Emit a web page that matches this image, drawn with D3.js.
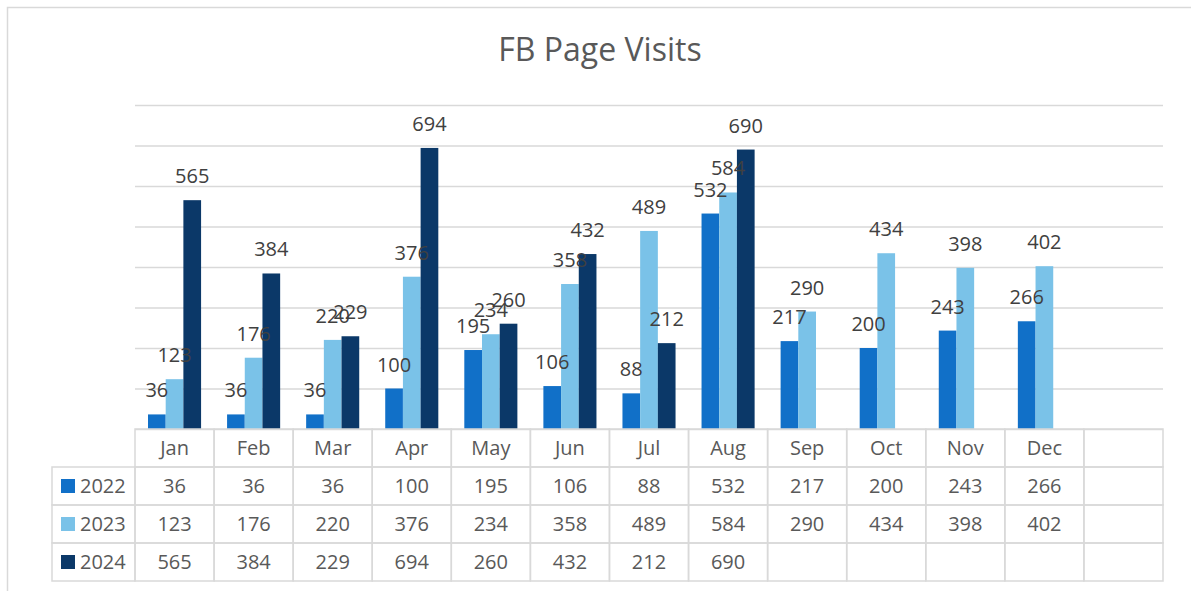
<!DOCTYPE html>
<html>
<head>
<meta charset="utf-8">
<script src="https://cdn.jsdelivr.net/npm/d3@7"></script>
<style>
  body { margin: 0; background: #fff; }
  text { font-family: "Open Sans", "Noto Sans", sans-serif; fill: #595959; }
</style>
</head>
<body>
<div id="chart"></div>
<script>
// data
var months = ["Jan","Feb","Mar","Apr","May","Jun","Jul","Aug","Sep","Oct","Nov","Dec",""];
var years = ["2022","2023","2024"];
var v2022 = [36,36,36,100,195,106,88,532,217,200,243,266];
var v2023 = [123,176,220,376,234,358,489,584,290,434,398,402];
var v2024 = [565,384,229,694,260,432,212,690];
var yTicks = [0,100,200,300,400,500,600,700,800];
var colors = ["#1170c8","#7ac2e8","#0b3868"];

var series = [v2022, v2023, v2024];

var W = 1191, H = 591;
var plotL = 135, plotR = 1163, plotT = 105, base = 429;
var rowH = 38;

var svg = d3.select("#chart").append("svg")
  .attr("width", W).attr("height", H);

// chart frame (continues past the right and bottom edges)
svg.append("rect")
  .attr("x", 7.5).attr("y", 7.5)
  .attr("width", W + 20).attr("height", H + 20)
  .attr("fill", "#fff").attr("stroke", "#d9d9d9").attr("stroke-width", 1.5);

svg.append("text")
  .attr("x", 600).attr("y", 61)
  .attr("text-anchor", "middle")
  .style("font-size", "32px")
  .text("FB Page Visits");

var x = d3.scaleBand().domain(months).range([plotL, plotR]).paddingInner(0).paddingOuter(0);
var x1 = d3.scaleBand().domain(years).range([13, x.bandwidth() - 13]).padding(0);
var y = d3.scaleLinear().domain([0, 800]).range([base, plotT]);

// gridlines
var grid = svg.append("g")
  .attr("transform", "translate(" + plotL + ",0)")
  .call(d3.axisLeft(y).tickValues(yTicks).tickSize(-(plotR - plotL)).tickFormat(""));
grid.select(".domain").remove();
grid.selectAll("line").attr("stroke", "#d9d9d9").attr("stroke-width", 1.5);

// bars
series.forEach(function(vals, si) {
  var g = svg.append("g");
  g.selectAll("rect").data(vals).enter().append("rect")
    .attr("x", function(d, i) { return x(months[i]) + x1(years[si]); })
    .attr("y", function(d) { return y(d); })
    .attr("width", x1.bandwidth())
    .attr("height", function(d) { return base - y(d); })
    .attr("fill", colors[si]);
});

// data labels (drawn after all bars, as in the original they overlap)
series.forEach(function(vals, si) {
  svg.append("g").selectAll("text").data(vals).enter().append("text")
    .attr("x", function(d, i) { return x(months[i]) + x1(years[si]) + x1.bandwidth() / 2; })
    .attr("y", function(d) { return y(d) - 17; })
    .attr("text-anchor", "middle")
    .style("font-size", "20px")
    .style("fill", "#404040")
    .text(function(d) { return d; });
});

// data table
var tbl = svg.append("g");
var lineCol = "#d9d9d9";
var legL = 52;

// header row
months.forEach(function(m) {
  tbl.append("rect")
    .attr("x", x(m)).attr("y", base)
    .attr("width", x.bandwidth()).attr("height", rowH)
    .attr("fill", "none").attr("stroke", lineCol).attr("stroke-width", 1.5);
  tbl.append("text")
    .attr("x", x(m) + x.bandwidth() / 2).attr("y", base + rowH / 2 + 7)
    .attr("text-anchor", "middle").style("font-size", "20px")
    .text(m);
});

series.forEach(function(vals, si) {
  var ry = base + rowH * (si + 1);
  tbl.append("rect")
    .attr("x", legL).attr("y", ry)
    .attr("width", plotL - legL).attr("height", rowH)
    .attr("fill", "none").attr("stroke", lineCol).attr("stroke-width", 1.5);
  tbl.append("rect")
    .attr("x", 61).attr("y", ry + rowH / 2 - 7)
    .attr("width", 14).attr("height", 14)
    .attr("fill", colors[si]);
  tbl.append("text")
    .attr("x", 80).attr("y", ry + rowH / 2 + 7)
    .style("font-size", "20px")
    .text(years[si]);
  months.forEach(function(m, i) {
    tbl.append("rect")
      .attr("x", x(m)).attr("y", ry)
      .attr("width", x.bandwidth()).attr("height", rowH)
      .attr("fill", "none").attr("stroke", lineCol).attr("stroke-width", 1.5);
    if (vals[i] != null) {
      tbl.append("text")
        .attr("x", x(m) + x.bandwidth() / 2).attr("y", ry + rowH / 2 + 7)
        .attr("text-anchor", "middle").style("font-size", "20px")
        .text(vals[i]);
    }
  });
});
</script>
</body>
</html>
